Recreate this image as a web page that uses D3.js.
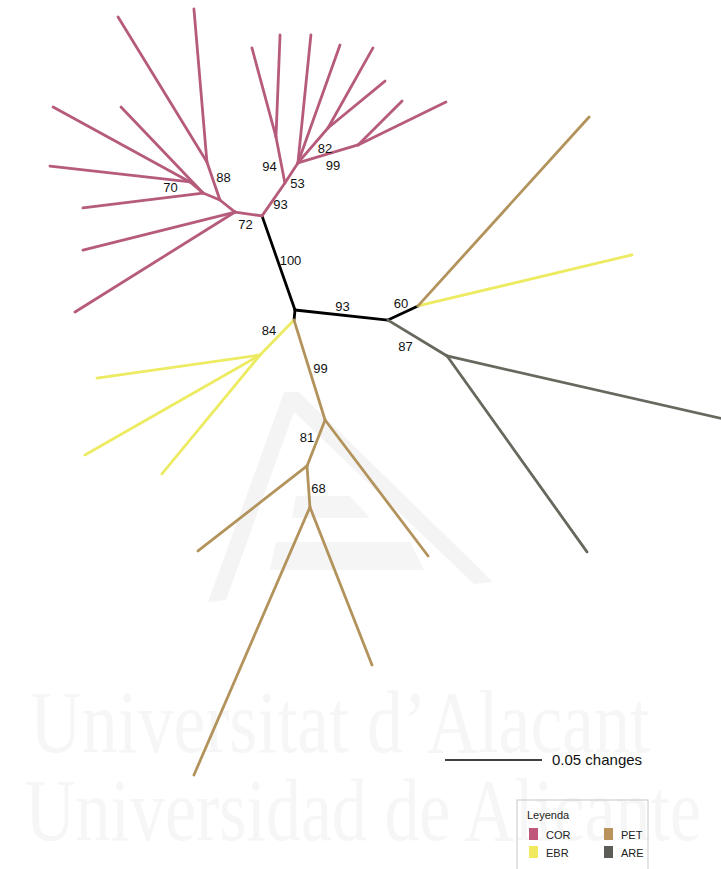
<!DOCTYPE html>
<html>
<head>
<meta charset="utf-8">
<script src="https://cdn.jsdelivr.net/npm/d3@7"></script>
<style>
  body { margin: 0; background: #fff; }
  svg { display: block; font-family: "Liberation Sans", Arial, sans-serif; }
</style>
</head>
<body>
<svg id="chart" width="721" height="869"></svg>
<script>
// unrooted tree, node positions in changes (substitutions/site) from the centre node
// rows: [id, parent, x, y, bootstrap]
const backbone = [
  ['C', null, 0, 0],
  ['A', 'C', -0.0170, 0.0485, 100],
  ['D', 'C', 0.0479, -0.0052, 93],
  ['E', 'D', 0.0634, 0.0021, 60],
  ['G', 'C', -0.0005, -0.0052]
];

const corNodes = [
  ['B1', 'A', -0.0309, 0.0505, 72],
  ['t1', 'B1', -0.1134, -0.0010],
  ['t2', 'B1', -0.1093, 0.0309],
  ['P', 'B1', -0.0387, 0.0567],
  ['N88', 'P', -0.0454, 0.0763, 88],
  ['t3', 'N88', -0.0521, 0.1552],
  ['t4', 'N88', -0.0912, 0.1510],
  ['Q', 'P', -0.0474, 0.0603],
  ['t5', 'Q', -0.0897, 0.1046],
  ['t6', 'Q', -0.1093, 0.0526],
  ['N70', 'Q', -0.0541, 0.0660, 70],
  ['t7', 'N70', -0.1247, 0.1046],
  ['t8', 'N70', -0.1263, 0.0742],
  ['B2', 'A', -0.0052, 0.0655, 93],
  ['N94', 'B2', -0.0098, 0.0892, 94],
  ['t9', 'N94', -0.0222, 0.1351],
  ['t10', 'N94', -0.0077, 0.1418],
  ['N53', 'B2', 0.0015, 0.0758, 53],
  ['t11', 'N53', 0.0082, 0.1418],
  ['t12', 'N53', 0.0232, 0.1366],
  ['N82', 'N53', 0.0170, 0.0938, 82],
  ['t13', 'N82', 0.0402, 0.1351],
  ['t14', 'N82', 0.0464, 0.1180],
  ['N99', 'N53', 0.0325, 0.0851, 99],
  ['t15', 'N99', 0.0552, 0.1077],
  ['t16', 'N99', 0.0778, 0.1072]
];

const ebrNodes = [
  ['H', 'G', -0.0180, -0.0232, 84],
  ['t21', 'H', -0.1021, -0.0351],
  ['t22', 'H', -0.1083, -0.0747],
  ['t23', 'H', -0.0686, -0.0845],
  ['t18', 'E', 0.1737, 0.0284]
];

const petNodes = [
  ['I', 'G', 0.0155, -0.0567, 99],
  ['t24', 'I', 0.0686, -0.1268],
  ['J', 'I', 0.0062, -0.0804, 81],
  ['t25', 'J', -0.0500, -0.1242],
  ['K', 'J', 0.0077, -0.1016, 68],
  ['t26', 'K', -0.0521, -0.2397],
  ['t27', 'K', 0.0397, -0.1830],
  ['t17', 'E', 0.1516, 0.0995]
];

const areNodes = [
  ['F', 'D', 0.0784, -0.0237, 87],
  ['t19', 'F', 0.2232, -0.0567],
  ['t20', 'F', 0.1505, -0.1247]
];

const legendGroups = ['COR', 'EBR', 'PET', 'ARE'];
const scaleBarValue = 0.05;
const scaleBarLabel = '0.05 changes';

// ---- styling / layout
const branchColors = {
  root: '#000000',
  COR: '#b65b7c',
  EBR: '#eceb62',
  PET: '#b3935c',
  ARE: '#68685f'
};
const swatchColors = { COR: '#c0587c', EBR: '#f2ea5e', PET: '#b8925a', ARE: '#5d5d57' };

// bootstrap label offsets from the branch midpoint (px)
const labelNudge = {
  A: [12, -3], D: [1, -9], E: [-2, -10],
  B1: [-3, 10], N88: [10, -4], N70: [-26, 0], B2: [7, 5],
  N94: [-11, 6], N53: [6, 10], N82: [12, 3], N99: [5, 11],
  H: [-8, -7], I: [11, -2], J: [-9, -6], K: [10, 2], F: [-12, 8]
};

const svg = d3.select('#chart');

// --- watermark (university logo + name), very faint
const wm = svg.append('g').attr('class', 'watermark');
wm.append('path')
  .attr('d', 'M284,392 L299,392 L493,582 L474,584 L294,412 L226,600 L208,602 Z')
  .attr('fill', '#f4f4f4');
wm.append('path')
  .attr('d', 'M296,496 L350,496 L370,518 L292,518 Z')
  .attr('fill', '#f5f5f5');
wm.append('path')
  .attr('d', 'M276,542 L410,542 L424,570 L270,570 Z')
  .attr('fill', '#f5f5f5');
wm.append('text')
  .attr('x', 30).attr('y', 752)
  .attr('textLength', 620).attr('lengthAdjust', 'spacingAndGlyphs')
  .style('font-family', '"Liberation Serif", "DejaVu Serif", serif')
  .style('font-size', '88px')
  .attr('fill', '#f6f6f6')
  .text('Universitat d\u2019Alacant');
wm.append('text')
  .attr('x', 25).attr('y', 840)
  .attr('textLength', 676).attr('lengthAdjust', 'spacingAndGlyphs')
  .style('font-family', '"Liberation Serif", "DejaVu Serif", serif')
  .style('font-size', '88px')
  .attr('fill', '#f6f6f6')
  .text('Universidad de Alicante');

// --- build the tree
const rows = [];
backbone.forEach(r => rows.push({ id: r[0], parent: r[1], x: r[2], y: r[3], support: r[4], group: 'root' }));
[['COR', corNodes], ['EBR', ebrNodes], ['PET', petNodes], ['ARE', areNodes]].forEach(([g, arr]) => {
  arr.forEach(r => rows.push({ id: r[0], parent: r[1], x: r[2], y: r[3], support: r[4], group: g }));
});

const root = d3.stratify()
  .id(d => d.id)
  .parentId(d => d.parent)(rows);

const pxPerUnit = 97 / 0.05;
const originX = 295, originY = 310;
const x = d3.scaleLinear().domain([0, 1]).range([originX, originX + pxPerUnit]);
const y = d3.scaleLinear().domain([0, 1]).range([originY, originY - pxPerUnit]);

const links = root.links();

svg.append('g')
  .selectAll('line')
  .data(links)
  .join('line')
  .attr('x1', d => x(d.source.data.x))
  .attr('y1', d => y(d.source.data.y))
  .attr('x2', d => x(d.target.data.x))
  .attr('y2', d => y(d.target.data.y))
  .attr('stroke', d => branchColors[d.target.data.group])
  .attr('stroke-width', 2.8)
  .attr('stroke-linecap', 'round')
  .attr('stroke-linejoin', 'round');

svg.append('g')
  .selectAll('text')
  .data(links.filter(d => d.target.data.support != null))
  .join('text')
  .attr('x', d => (x(d.source.data.x) + x(d.target.data.x)) / 2 + (labelNudge[d.target.id] || [0, 0])[0])
  .attr('y', d => (y(d.source.data.y) + y(d.target.data.y)) / 2 + (labelNudge[d.target.id] || [0, 0])[1])
  .attr('dy', '0.36em')
  .attr('text-anchor', 'middle')
  .style('font-size', '13px')
  .attr('fill', '#111')
  .text(d => d.target.data.support);

// --- scale bar
const barX = 445, barY = 760;
svg.append('line')
  .attr('x1', barX).attr('x2', barX + (x(scaleBarValue) - x(0)))
  .attr('y1', barY).attr('y2', barY)
  .attr('stroke', '#000').attr('stroke-width', 1.5);
svg.append('text')
  .attr('x', barX + (x(scaleBarValue) - x(0)) + 10)
  .attr('y', barY + 5)
  .style('font-size', '15px')
  .attr('fill', '#111')
  .text(scaleBarLabel);

// --- legend
const lg = svg.append('g').attr('transform', 'translate(517,800)');
lg.append('rect')
  .attr('width', 131).attr('height', 80)
  .attr('fill', 'none')
  .attr('stroke', '#c8c8c8').attr('stroke-width', 1);
lg.append('text')
  .attr('x', 10).attr('y', 19)
  .style('font-size', '11px')
  .attr('fill', '#222')
  .text('Leyenda');
const item = lg.selectAll('g.item')
  .data(legendGroups)
  .join('g')
  .attr('class', 'item')
  .attr('transform', (d, i) => `translate(${i < 2 ? 12 : 87},${28 + (i % 2) * 18})`);
item.append('rect')
  .attr('width', 9).attr('height', 12)
  .attr('fill', d => swatchColors[d]);
item.append('text')
  .attr('x', 17).attr('y', 10.5)
  .style('font-size', '11px')
  .attr('fill', '#222')
  .text(d => d);
</script>
</body>
</html>
